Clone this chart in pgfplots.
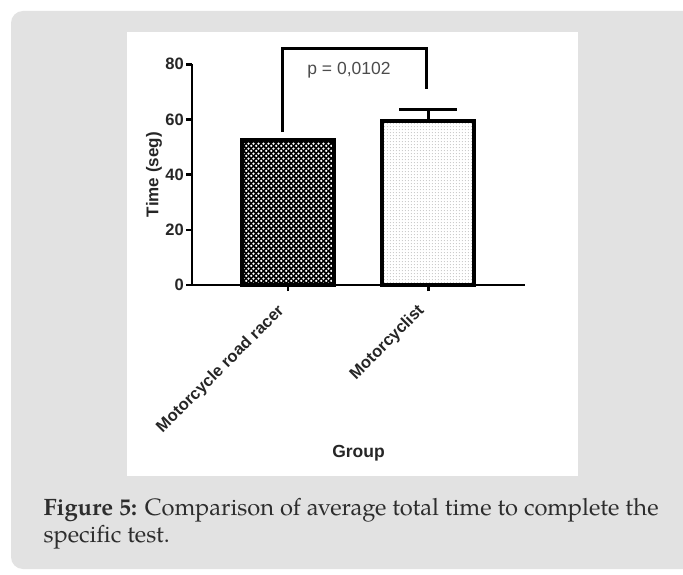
\documentclass[border=0pt]{standalone}
\usepackage{fontspec}
\setmainfont{TeX Gyre Pagella}
\setsansfont{Liberation Sans}
\usepackage{pgfplots}
\pgfplotsset{compat=1.18}
\usetikzlibrary{patterns.meta}
\definecolor{bggray}{RGB}{226,226,226}
\definecolor{captxt}{RGB}{45,45,45}
\tikzdeclarepattern{
  name=darkdots, type=uncolored,
  bounding box={(0pt,0pt) and (4.8pt,4.8pt)},
  tile size={(4.8pt,4.8pt)},
  code={
    \fill (1.2pt,1.2pt) circle (1.3pt);
    \fill (3.6pt,3.6pt) circle (1.3pt);
  }
}
\tikzdeclarepattern{
  name=lightdots, type=uncolored,
  bounding box={(0pt,0pt) and (3.2pt,3.2pt)},
  tile size={(3.2pt,3.2pt)},
  code={
    \fill (1.6pt,1.6pt) circle (0.6pt);
  }
}
\begin{document}
\begin{tikzpicture}[x=1pt,y=1pt]
\useasboundingbox (0,0) rectangle (683,574);
\fill[white] (0,0) rectangle (683,574);
\fill[bggray, rounded corners=12pt] (11,5) rectangle (720,563);
\fill[white] (127,98) rectangle (577.7,542.3);
\begin{axis}[
  at={(192pt,289pt)}, anchor=south west,
  scale only axis, width=333pt, height=220.7pt,
  xmin=-0.686, xmax=1.69, ymin=0, ymax=80,
  axis x line*=bottom, axis y line*=left,
  axis line style={line width=2.7pt, black},
  clip=false,
  xtick={0,1}, xticklabels={Motorcycle road racer, Motorcyclist},
  ytick={0,20,40,60,80},
  tick align=outside, major tick length=6pt,
  tick style={line width=2.5pt, black},
  /pgf/number format/assume math mode=true,
  yticklabel style={font=\fontsize{16.5}{16.5}\selectfont\sffamily\bfseries, text=black!85, inner sep=2pt},
  xticklabel style={xshift=-12pt, yshift=-9pt, rotate=45, anchor=north east, font=\fontsize{16.5}{16.5}\selectfont\sffamily\bfseries, text=black!85, inner sep=2pt},
  xlabel={Group}, ylabel={Time (seg)},
  xlabel style={at={(axis description cs:0.5,-0.761)}, anchor=center, font=\fontsize{17.5}{17.5}\selectfont\sffamily\bfseries, text=black!85},
  ylabel style={at={(axis description cs:-0.114,0.5)}, anchor=center, font=\fontsize{17}{17}\selectfont\sffamily\bfseries, text=black!85},
]
% bar 1
\addplot[ybar, bar width=92pt, bar shift=0pt, draw=none, fill=black,
  postaction={pattern=darkdots, pattern color=white}] coordinates {(0,52.5)};
\addplot[ybar, bar width=92pt, bar shift=0pt, draw=black, line width=4pt, fill=none] coordinates {(0,52.5)};
% bar 2
\addplot[ybar, bar width=92pt, bar shift=0pt, draw=none, fill=white,
  postaction={pattern=lightdots, pattern color=black!35}] coordinates {(1,59.5)};
\addplot[ybar, bar width=92pt, bar shift=0pt, draw=black, line width=4pt, fill=none] coordinates {(1,59.5)};
% error bar
\addplot[black, line width=2.5pt] coordinates {(1,59.5) (1,63.7)};
\addplot[black, line width=2.5pt] coordinates {(0.793,63.7) (1.207,63.7)};
% significance bracket
\addplot[black, line width=3pt, line join=miter] coordinates {(-0.04,55.4) (-0.04,85.6) (0.99,85.6) (0.99,71)};
\node[font=\fontsize{17.5}{17.5}\selectfont\sffamily, text=black!70] at (axis cs:0.434,77.9) {p = 0,0102};
\end{axis}
\node[anchor=base west, inner sep=0pt, text=captxt, font=\fontsize{23.7}{23.7}\selectfont] at (43.3,59) {\textbf{Figure 5:} Comparison of average total time to complete the};
\node[anchor=base west, inner sep=0pt, text=captxt, font=\fontsize{23.7}{23.7}\selectfont] at (43.3,31.3) {specific test.};
\end{tikzpicture}
\end{document}
